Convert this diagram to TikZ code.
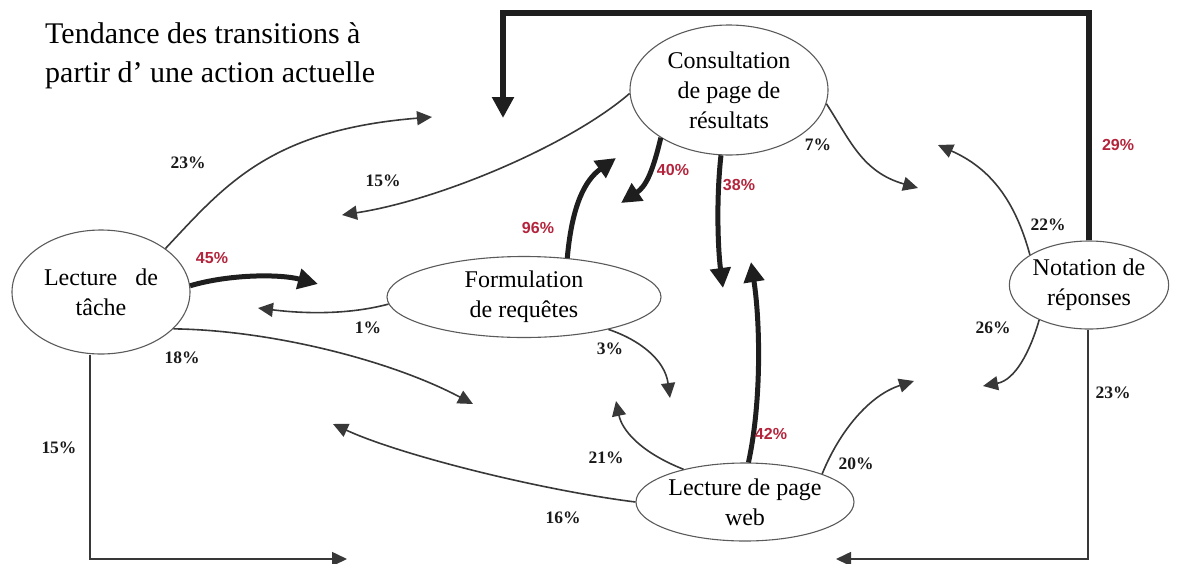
\documentclass[tikz,border=0pt]{standalone}
\usepackage{fontspec}
\setmainfont{Liberation Serif}
\newfontfamily\labsans{Liberation Sans}
\usetikzlibrary{shapes.geometric,arrows.meta}
\definecolor{redlab}{HTML}{B3243C}
\definecolor{thinc}{HTML}{383838}
\definecolor{thickc}{HTML}{1E1E1E}
\definecolor{ellc}{HTML}{5A5A5A}
\begin{document}
\begin{tikzpicture}[x=1pt,y=-1pt,
  state/.style={ellipse,draw=ellc,line width=1.1pt,inner sep=0pt,align=center,
    font=\fontsize{24}{30}\selectfont},
  thinarr/.style={draw=thinc,line width=1.6pt,-{Triangle[length=15pt,width=14pt]}},
  thickarr/.style={draw=thickc,line width=5pt,-{Triangle[length=20pt,width=20pt]}},
  looparr/.style={draw=thickc,line width=6pt,-{Triangle[length=21pt,width=21pt]}},
  pct/.style={font=\fontsize{17.5}{17.5}\selectfont\bfseries,text=black!90,inner sep=0pt},
  pctred/.style={font=\labsans\fontsize{16}{16}\selectfont\bfseries,text=redlab,inner sep=0pt},
  titletext/.style={font=\fontsize{30}{39}\selectfont,inner sep=0pt,anchor=base west}]
\useasboundingbox (0,0) rectangle (1178,563);

% title
\node[titletext] (title1) at (45,43) {Tendance des transitions à};
\node[titletext] (title2) at (45,82) {partir d’ une action actuelle};

% states
\node[state,minimum width=178pt,minimum height=124pt] (tache) at (101,292) {Lecture\hspace{18pt}de\\tâche};
\node[state,minimum width=198pt,minimum height=130pt] (cons) at (729,90) {Consultation\\de page de\\résultats};
\node[state,minimum width=274pt,minimum height=81pt] (form) at (524,297) {Formulation\\de requêtes};
\node[state,minimum width=218pt,minimum height=78pt] (web) at (745,502) {Lecture de page\\web};
\node[state,minimum width=148pt,minimum height=88pt] (note) at (1089,285) {Notation de\\réponses};

% free ends
\coordinate (e23) at (432,117);
\coordinate (e15) at (342,215);
\coordinate (e45) at (318,284);
\coordinate (e18) at (473,404);
\coordinate (b15) at (90,559);
\coordinate (e15b) at (347,559);
\coordinate (e1) at (258,308);
\coordinate (e96) at (616,158);
\coordinate (e3) at (670,398);
\coordinate (e40) at (621,203);
\coordinate (e38) at (723,288);
\coordinate (e7) at (918,188);
\coordinate (c29) at (503,13);
\coordinate (e29) at (503,118);
\coordinate (e42) at (751,262);
\coordinate (e21) at (616,401);
\coordinate (e16) at (333,424);
\coordinate (e20) at (914,381);
\coordinate (e22) at (938,145);
\coordinate (e26) at (983,386);
\coordinate (b23) at (1088,559);
\coordinate (e23b) at (836,559);

% from Lecture de tache
\draw[thinarr] (tache.34) .. controls (225,185) and (270,130) .. (e23);
\draw[thickarr] (tache.4) .. controls (230,274) and (280,274) .. (e45);
\draw[thinarr] (tache.333) .. controls (270,330) and (390,360) .. (e18);
\draw[thinarr] (b15 |- tache.south) -- (b15) -- (e15b);

% from Consultation
\draw[thinarr] (cons.182) .. controls (570,145) and (440,200) .. (e15);
\draw[thickarr] (cons.215) .. controls (652,175) and (645,187) .. (e40);
\draw[thickarr] (cons.263) .. controls (716,200) and (718,250) .. (e38);
\draw[thinarr] (cons.352) .. controls (850,140) and (862,172) .. (e7);

% from Formulation
\draw[thinarr] (form.183) .. controls (340,317) and (290,312) .. (e1);
\draw[thickarr] (form.42) .. controls (572,205) and (585,180) .. (e96);
\draw[thinarr] (form.339) .. controls (640,340) and (665,360) .. (e3);

% from Lecture de page web
\draw[thickarr] (web.85) .. controls (762,400) and (760,320) .. (e42);
\draw[thinarr] (web.152) .. controls (640,452) and (622,430) .. (e21);
\draw[thinarr] (web.180) .. controls (540,490) and (400,455) .. (e16);
\draw[thinarr] (web.20) .. controls (840,430) and (870,395) .. (e20);

% from Notation
\draw[looparr] (note.north) |- (c29) -- (e29);
\draw[thinarr] (note.153) .. controls (1015,200) and (990,168) .. (e22);
\draw[thinarr] (note.215) .. controls (1030,352) and (1015,380) .. (e26);
\draw[thinarr] (note.south -| b23) -- (b23) -- (e23b);

% labels
\node[pct] (l23a) at (188,163) {23\%};
\node[pct] (l15a) at (383,181) {15\%};
\node[pctred] (l45) at (212,258) {45\%};
\node[pctred] (l96) at (538,228) {96\%};
\node[pctred] (l40) at (673,170) {40\%};
\node[pctred] (l38) at (739,185) {38\%};
\node[pct] (l7) at (818,145) {7\%};
\node[pctred] (l29) at (1118,145) {29\%};
\node[pct] (l22) at (1048,225) {22\%};
\node[pct] (l1) at (368,328) {1\%};
\node[pct] (l18) at (182,358) {18\%};
\node[pct] (l3) at (610,349) {3\%};
\node[pct] (l26) at (993,328) {26\%};
\node[pct] (l15b) at (59,448) {15\%};
\node[pct] (l23b) at (1113,393) {23\%};
\node[pct] (l21) at (606,458) {21\%};
\node[pctred] (l42) at (771,434) {42\%};
\node[pct] (l20) at (856,464) {20\%};
\node[pct] (l16) at (563,518) {16\%};
\end{tikzpicture}
\end{document}
